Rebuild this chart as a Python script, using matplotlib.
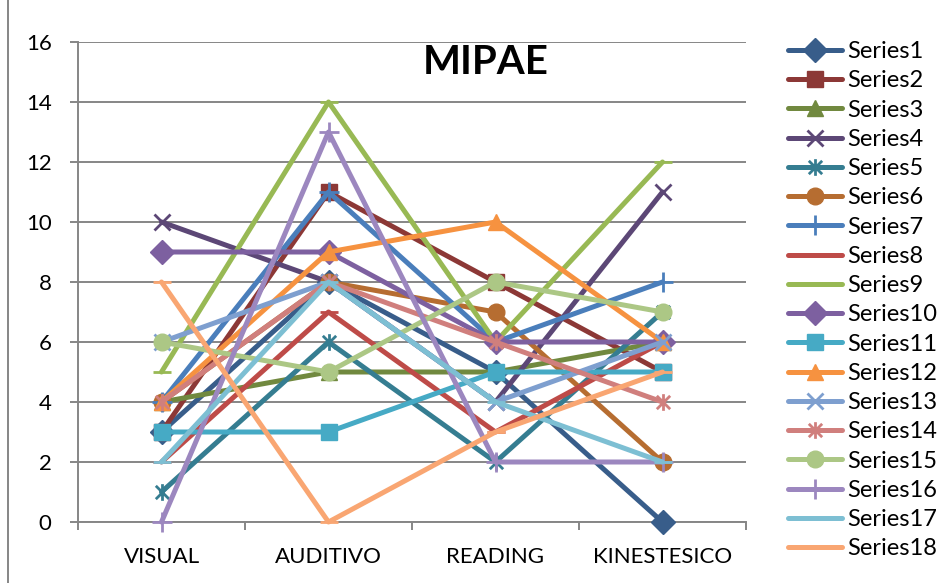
import numpy as np
import matplotlib
matplotlib.use("Agg")
import matplotlib.pyplot as plt
from matplotlib.path import Path

# chart data
categories = ["VISUAL", "AUDITIVO", "READING", "KINESTESICO"]
series_names = ["Series%d" % i for i in range(1, 19)]
s1 = [3, 8, 5, 0]
s2 = [3, 11, 8, 5]
s3 = [4, 5, 5, 6]
s4 = [10, 8, 4, 11]
s5 = [1, 6, 2, 7]
s6 = [4, 8, 7, 2]
s7 = [4, 11, 6, 8]
s8 = [2, 7, 3, 6]
s9 = [5, 14, 6, 12]
s10 = [9, 9, 6, 6]
s11 = [3, 3, 5, 5]
s12 = [4, 9, 10, 6]
s13 = [6, 8, 4, 6]
s14 = [4, 8, 6, 4]
s15 = [6, 5, 8, 7]
s16 = [0, 13, 2, 2]
s17 = [2, 8, 4, 2]
s18 = [8, 0, 3, 5]
values = [s1, s2, s3, s4, s5, s6, s7, s8, s9, s10, s11, s12, s13, s14, s15, s16, s17, s18]

# excel-like colours: dark, base, light
colors = ["#385D8A", "#8C3836", "#71893F", "#5C4776", "#357D91", "#B66D31",
          "#4A7EBB", "#BE4B48", "#98B954", "#7D60A0", "#46AAC5", "#F69240",
          "#7E9FCF", "#D07F7D", "#ACC785", "#9C87BF", "#7DBFD3", "#F9A672"]

# asterisk marker like excel's star (x plus vertical bar)
star = Path([(0, -1), (0, 1), (-0.8, -0.8), (0.8, 0.8), (-0.8, 0.8), (0.8, -0.8)],
            [Path.MOVETO, Path.LINETO, Path.MOVETO, Path.LINETO, Path.MOVETO, Path.LINETO])

markers = ["D", "s", "^", "x", star, "o", "+", "_", "_"] * 2
msizes = [12, 11, 12, 12, 12, 12, 14, 13, 13] * 2

plt.rcParams["font.family"] = ["Lato", "DejaVu Sans"]

fig = plt.figure(figsize=(9.49, 5.83), dpi=100)
ax = fig.add_axes([78 / 949, 61 / 583, 668 / 949, 480 / 583])

x = np.arange(len(categories))
for i in range(len(values)):
    mk = markers[i]
    filled = mk in ("D", "s", "^", "o")
    ax.plot(x, values[i], color=colors[i], lw=3.6, marker=mk, ms=msizes[i],
            mfc=colors[i], mec=colors[i], mew=1.0 if filled else 2.0,
            solid_capstyle="round", label=series_names[i], zorder=3 + i, clip_on=False)

ax.set_xlim(-0.5, 3.5)
ax.set_ylim(0, 16)
ax.set_yticks(np.arange(0, 17, 2))
ax.set_xticks(x)
ax.set_xticklabels(categories)
ax.set_xticks(np.arange(-0.5, 4, 1), minor=True)
ax.yaxis.grid(True, color="#868686", lw=1.4)
ax.set_axisbelow(True)
for side in ["top", "right"]:
    ax.spines[side].set_visible(False)
for side in ["left", "bottom"]:
    ax.spines[side].set_color("#868686")
    ax.spines[side].set_linewidth(1.4)
ax.tick_params(axis="y", length=6, width=1.4, color="#868686", pad=13, labelsize=16)
ax.tick_params(axis="x", which="major", length=0, pad=18, labelsize=16)
ax.tick_params(axis="x", which="minor", length=6, width=1.4, color="#868686")

fig.text(486 / 949, 1 - 63 / 583, "MIPAE", fontsize=29, fontweight="bold",
         ha="center", va="center")

leg = ax.legend(loc="upper left", bbox_to_anchor=(788 / 949, 1 - 41 / 583),
                bbox_transform=fig.transFigure, frameon=False, fontsize=17,
                handlelength=2.3, handletextpad=0.2, labelspacing=0.35,
                borderaxespad=0, borderpad=0)

# chart area border (left edge visible)
fig.add_artist(plt.Line2D([8 / 949, 8 / 949], [0, 1], color="#868686", lw=1.4,
                          transform=fig.transFigure))

fig.savefig("out.png", dpi=100)
